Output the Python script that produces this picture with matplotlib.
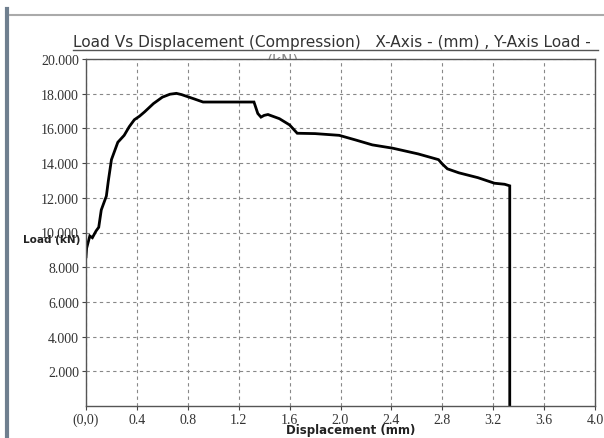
import numpy as np
import matplotlib
matplotlib.use('Agg')
import matplotlib.pyplot as plt
from matplotlib.lines import Line2D

# displacement (mm) / load (kN)
disp = [0.0, 0.005, 0.03, 0.05, 0.08, 0.10, 0.12, 0.16, 0.175, 0.20, 0.22, 0.25,
        0.30, 0.34, 0.38, 0.42, 0.46, 0.53, 0.60, 0.66, 0.71, 0.75, 0.79, 0.85,
        0.92, 1.10, 1.32, 1.33, 1.35, 1.375, 1.40, 1.43, 1.52, 1.60, 1.66, 1.80,
        1.99, 2.12, 2.25, 2.41, 2.61, 2.77, 2.80, 2.84, 2.93, 3.08, 3.21, 3.29,
        3.33, 3.33]
load = [8.6, 9.1, 9.8, 9.7, 10.1, 10.3, 11.3, 12.1, 12.95, 14.2, 14.6, 15.2,
        15.6, 16.1, 16.5, 16.7, 16.95, 17.43, 17.8, 17.97, 18.02, 17.95, 17.85, 17.7,
        17.52, 17.52, 17.52, 17.3, 16.86, 16.65, 16.75, 16.8, 16.56, 16.2, 15.72, 15.7,
        15.6, 15.33, 15.05, 14.86, 14.53, 14.2, 13.95, 13.67, 13.44, 13.16, 12.84, 12.78,
        12.69, 0.0]

xticks = [0, 0.4, 0.8, 1.2, 1.6, 2.0, 2.4, 2.8, 3.2, 3.6, 4.0]
xlabels = ['(0,0)', '0.4', '0.8', '1.2', '1.6', '2.0', '2.4', '2.8', '3.2', '3.6', '4.0']
yticks = [2, 4, 6, 8, 10, 12, 14, 16, 18, 20]
ylabels = ['2.000', '4.000', '6.000', '8.000', '10.000', '12.000', '14.000', '16.000', '18.000', '20.000']

fig = plt.figure(figsize=(6.04, 4.39), dpi=100)
ax = fig.add_axes([86/604., 1-407/439., 509/604., 347/439.])

ax.plot(disp, load, color='black', lw=2.0, solid_joinstyle='miter')
ax.set_xlim(0, 4.0)
ax.set_ylim(0, 20.0)
ax.set_xticks(xticks)
ax.set_xticklabels(xlabels, fontsize=10, family='Liberation Serif', color='#333333')
ax.set_yticks(yticks)
ax.set_yticklabels(ylabels, fontsize=10, family='Liberation Serif', color='#333333')
ax.tick_params(length=3, width=0.8, color='#444444', pad=2)
ax.grid(True, ls=(0, (3, 3)), color='#888888', lw=0.8)
for s in ax.spines.values():
    s.set_color('#555555')
    s.set_linewidth(1.0)

ax.set_xlabel('Displacement (mm)', fontsize=8.5, fontweight='bold', color='#222222', va='center')
ax.xaxis.set_label_coords(0.52, -0.068)
fig.text(80/604., 1-240/439., 'Load (kN)', fontsize=7.5, fontweight='bold', color='#222222',
         ha='right', va='center')

# title, underlined like the original
fig.text(73/604., 1-42/439., 'Load Vs Displacement (Compression)   X-Axis - (mm) , Y-Axis Load -',
         fontsize=11.1, color='#333333', ha='left', va='center')
fig.add_artist(Line2D([73/604., 598/604.], [1-51/439., 1-51/439.], color='#555555', lw=1.0))
# second title line is mostly hidden behind the plot area
fig.text(283/604., 1-53/439., '(kN)', fontsize=11.1, color='#888888', ha='center', va='top',
         zorder=-1)

# window frame bits on the left and top
fig.add_artist(Line2D([7/604., 7/604.], [0, 1-10/439.], color='#6f7f8f', lw=3))
fig.add_artist(Line2D([10/604., 1.0], [1-16/439., 1-16/439.], color='#aaaaaa', lw=1.5))

plt.savefig('out.png', dpi=100)
